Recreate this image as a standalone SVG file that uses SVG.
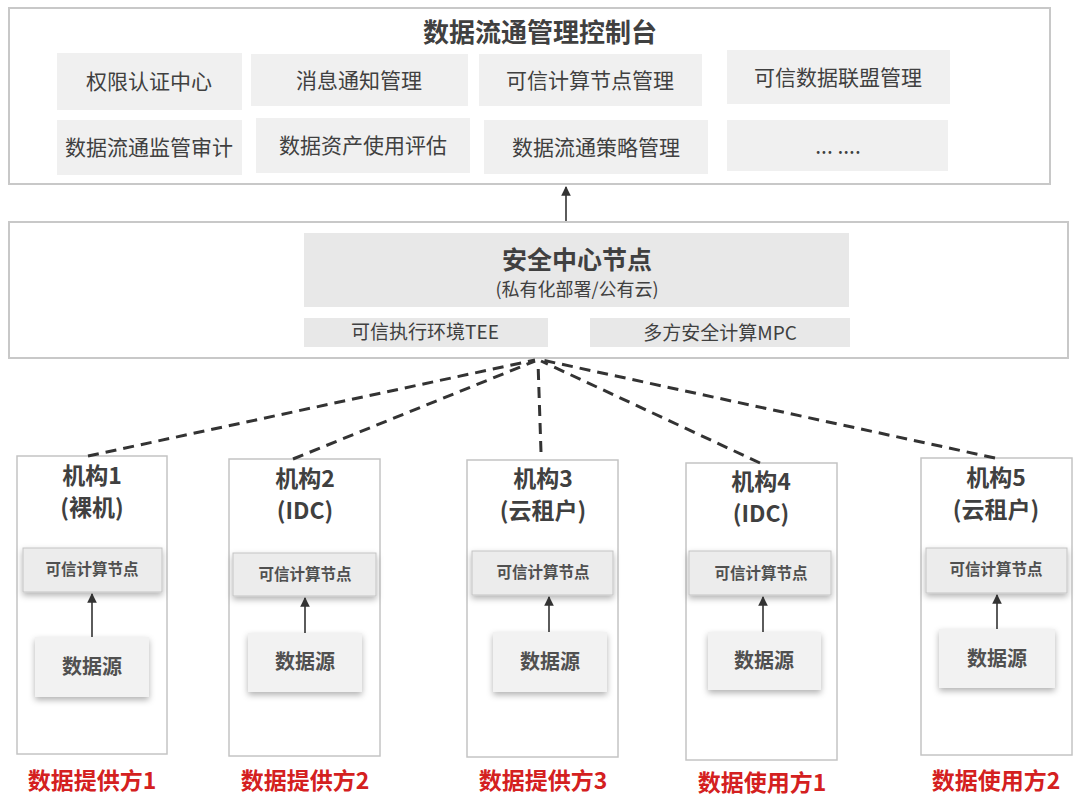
<svg xmlns="http://www.w3.org/2000/svg" width="1080" height="797" viewBox="0 0 1080 797">
<defs>
<style>
text{font-family:"Noto Sans CJK SC","Noto Sans",sans-serif;text-anchor:middle;fill:#404040}
.frame{fill:#fff;stroke:#c8c8c8;stroke-width:2}
.cell{fill:#f0f0f0}
.gray{fill:#e8e8e8}
.ct{font-size:21px}
.inst{fill:#fff;stroke:#c4c4c4;stroke-width:1.5}
.node{fill:#ececec;stroke:#c4c4c4;stroke-width:1;filter:url(#sh)}
.src{fill:#f2f2f2;filter:url(#sh)}
.it{font-size:23px;font-weight:bold}
.nt{font-size:15.5px;font-weight:bold;fill:#505050}
.st{font-size:20px;font-weight:bold;fill:#505050}
.red{font-size:23px;font-weight:bold;fill:#d42020}
.dash{stroke:#333;stroke-width:3;stroke-dasharray:11 7;fill:none}
.arr{stroke:#333;stroke-width:1.6;fill:none}
</style>
<filter id="sh" x="-20%" y="-30%" width="140%" height="170%">
<feDropShadow dx="0" dy="3" stdDeviation="3" flood-color="#000" flood-opacity="0.3"/>
</filter>
<marker id="ah" viewBox="0 0 10 10" refX="9" refY="5" markerWidth="6" markerHeight="6" orient="auto-start-reverse">
<path d="M0,0 L10,5 L0,10 z" fill="#333"/>
</marker>
</defs>
<rect width="1080" height="797" fill="#fff"/>

<g id="console">
<rect class="frame" x="9" y="8" width="1041" height="176"/>
<text x="540" y="42" font-size="26" font-weight="bold" fill="#333">数据流通管理控制台</text>
<rect class="cell" x="57" y="53" width="185" height="57"/><text class="ct" x="149" y="89">权限认证中心</text>
<rect class="cell" x="251" y="54" width="217" height="52"/><text class="ct" x="359" y="88">消息通知管理</text>
<rect class="cell" x="479" y="54" width="223" height="52"/><text class="ct" x="590" y="88">可信计算节点管理</text>
<rect class="cell" x="727" y="50" width="223" height="54"/><text class="ct" x="838" y="85">可信数据联盟管理</text>
<rect class="cell" x="57" y="120" width="185" height="55"/><text class="ct" x="149" y="155">数据流通监管审计</text>
<rect class="cell" x="256" y="118" width="214" height="55"/><text class="ct" x="363" y="153">数据资产使用评估</text>
<rect class="cell" x="484" y="120" width="224" height="54"/><text class="ct" x="596" y="155">数据流通策略管理</text>
<rect class="cell" x="727" y="120" width="221" height="51"/><text class="ct" x="838" y="154">... ....</text>
</g>

<g id="security-center">
<rect class="frame" x="9" y="222" width="1059" height="136"/>
<rect class="gray" x="304" y="233" width="545" height="74"/>
<text x="577" y="269" font-size="25" font-weight="bold" fill="#333">安全中心节点</text>
<text x="577" y="296" font-size="18">(私有化部署/公有云)</text>
<rect class="gray" x="304" y="318" width="244" height="29"/>
<text x="425" y="339" font-size="19">可信执行环境TEE</text>
<rect class="gray" x="590" y="318" width="260" height="29"/>
<text x="720" y="340" font-size="19">多方安全计算MPC</text>
</g>

<g id="inst1">
<rect class="inst" x="17" y="456" width="150" height="298"/>
<text class="it" x="92" y="484">机构1</text>
<text class="it" x="92" y="516">(裸机)</text>
<rect class="node" x="23" y="548" width="139" height="44"/>
<text class="nt" x="92" y="575">可信计算节点</text>
<rect class="src" x="35" y="637" width="114" height="60"/>
<text class="st" x="92" y="674">数据源</text>
</g>

<g id="inst2">
<rect class="inst" x="229" y="459" width="151" height="297"/>
<text class="it" x="305" y="487">机构2</text>
<text class="it" x="305" y="519">(IDC)</text>
<rect class="node" x="233" y="553" width="143" height="43"/>
<text class="nt" x="305" y="580">可信计算节点</text>
<rect class="src" x="248" y="633" width="114" height="59"/>
<text class="st" x="305" y="669">数据源</text>
</g>

<g id="inst3">
<rect class="inst" x="467" y="460" width="151" height="297"/>
<text class="it" x="543" y="487">机构3</text>
<text class="it" x="543" y="519">(云租户)</text>
<rect class="node" x="472" y="551" width="141" height="44"/>
<text class="nt" x="543" y="578">可信计算节点</text>
<rect class="src" x="493" y="632" width="114" height="60"/>
<text class="st" x="550" y="669">数据源</text>
</g>

<g id="inst4">
<rect class="inst" x="686" y="463" width="151" height="297"/>
<text class="it" x="761" y="490">机构4</text>
<text class="it" x="761" y="522">(IDC)</text>
<rect class="node" x="689" y="551" width="142" height="44"/>
<text class="nt" x="761" y="579">可信计算节点</text>
<rect class="src" x="708" y="632" width="113" height="58"/>
<text class="st" x="764" y="668">数据源</text>
</g>

<g id="inst5">
<rect class="inst" x="921" y="458" width="151" height="297"/>
<text class="it" x="996" y="486">机构5</text>
<text class="it" x="996" y="518">(云租户)</text>
<rect class="node" x="926" y="548" width="141" height="45"/>
<text class="nt" x="996" y="575">可信计算节点</text>
<rect class="src" x="939" y="629" width="116" height="59"/>
<text class="st" x="997" y="666">数据源</text>
</g>

<g id="labels">
<text class="red" x="92" y="789">数据提供方1</text>
<text class="red" x="305" y="789">数据提供方2</text>
<text class="red" x="543" y="789">数据提供方3</text>
<text class="red" x="762" y="791">数据使用方1</text>
<text class="red" x="996" y="789">数据使用方2</text>
</g>

<g id="connectors">
<line class="arr" x1="566" y1="221" x2="566" y2="187" marker-end="url(#ah)"/>
<line class="arr" x1="92" y1="637" x2="92" y2="594" marker-end="url(#ah)"/>
<line class="arr" x1="305" y1="633" x2="305" y2="598" marker-end="url(#ah)"/>
<line class="arr" x1="549" y1="632" x2="549" y2="597" marker-end="url(#ah)"/>
<line class="arr" x1="763" y1="632" x2="763" y2="597" marker-end="url(#ah)"/>
<line class="arr" x1="997" y1="629" x2="997" y2="595" marker-end="url(#ah)"/>
<line class="dash" x1="88" y1="456" x2="535" y2="360"/>
<line class="dash" x1="293" y1="459" x2="535" y2="361"/>
<line class="dash" x1="541" y1="452" x2="538" y2="362"/>
<line class="dash" x1="760" y1="463" x2="541" y2="361"/>
<line class="dash" x1="995" y1="458" x2="542" y2="360"/>
</g>
</svg>
